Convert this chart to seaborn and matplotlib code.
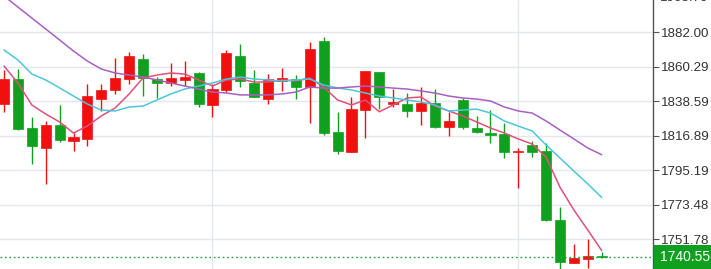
import numpy as np
import pandas as pd
import matplotlib
matplotlib.use("Agg")
import matplotlib.pyplot as plt
import seaborn as sns

# ---- data ----
opens = [1836.9, 1852.6, 1821.8, 1809.2, 1823.7, 1813.6, 1814.9, 1840.0, 1845.7, 1852.6,
         1865.2, 1852.6, 1850.1, 1852.0, 1856.4, 1836.3, 1845.7, 1867.1, 1850.1, 1840.0,
         1851.4, 1852.6, 1847.6, 1876.5, 1819.3, 1806.7, 1833.1, 1857.0, 1836.9, 1836.9,
         1832.5, 1837.5, 1822.4, 1839.4, 1821.8, 1818.7, 1818.0, 1806.7, 1811.1, 1807.3,
         1763.9, 1736.9, 1739.4, 1741.3]
highs = [1858.3, 1858.9, 1828.7, 1826.2, 1836.3, 1818.7, 1849.5, 1849.5, 1865.8, 1869.6,
         1868.4, 1853.9, 1862.7, 1864.0, 1857.0, 1849.5, 1870.9, 1874.6, 1858.3, 1855.8,
         1859.5, 1855.1, 1875.9, 1879.1, 1831.9, 1841.3, 1857.7, 1857.0, 1846.3, 1843.8,
         1847.6, 1846.3, 1831.9, 1840.7, 1829.4, 1833.1, 1825.0, 1809.2, 1813.6, 1812.4,
         1772.1, 1748.8, 1752.0, 1743.8]
lows = [1831.9, 1820.8, 1799.2, 1786.6, 1813.0, 1807.3, 1810.5, 1832.5, 1843.2, 1849.5,
        1841.9, 1840.7, 1848.2, 1848.2, 1835.0, 1828.7, 1844.4, 1847.6, 1841.0, 1836.9,
        1845.1, 1840.0, 1825.0, 1817.4, 1805.4, 1806.4, 1815.5, 1833.8, 1835.0, 1828.7,
        1823.7, 1822.0, 1816.8, 1821.2, 1818.7, 1812.4, 1802.9, 1784.1, 1803.6, 1763.5,
        1729.0, 1736.6, 1733.7, 1740.0]
closes = [1852.6, 1821.2, 1810.5, 1823.7, 1814.3, 1816.1, 1841.9, 1845.7, 1853.3, 1867.1,
          1853.3, 1850.1, 1853.3, 1853.9, 1836.9, 1846.3, 1869.0, 1851.4, 1841.3, 1852.6,
          1853.3, 1847.6, 1871.5, 1818.7, 1807.3, 1833.8, 1857.7, 1841.3, 1838.2, 1832.5,
          1837.5, 1822.4, 1826.2, 1822.4, 1819.3, 1817.4, 1806.7, 1807.3, 1806.7, 1763.9,
          1737.5, 1740.0, 1741.3, 1740.55]
ma_short = [1860.8, 1850.1, 1836.3, 1830.6, 1825.6, 1818.6, 1823.1, 1829.4, 1834.4, 1843.2,
            1853.3, 1855.1, 1856.4, 1855.7, 1852.0, 1848.2, 1852.0, 1852.6, 1850.7, 1850.7,
            1852.0, 1851.4, 1853.3, 1847.5, 1839.4, 1836.3, 1839.4, 1832.0, 1836.3, 1840.7,
            1841.3, 1835.6, 1832.5, 1829.4, 1825.6, 1821.8, 1818.6, 1814.9, 1811.7, 1803.5,
            1784.5, 1770.2, 1757.6, 1744.7]
ma_mid = [1870.9, 1864.6, 1855.8, 1852.0, 1847.0, 1841.9, 1836.9, 1833.1, 1832.5, 1835.0,
          1835.6, 1839.4, 1843.2, 1846.3, 1848.2, 1850.1, 1852.6, 1853.9, 1852.6, 1852.0,
          1851.4, 1852.0, 1852.6, 1848.8, 1847.0, 1845.7, 1843.8, 1841.9, 1840.7, 1839.4,
          1838.2, 1836.3, 1832.5, 1833.1, 1833.7, 1831.2, 1826.2, 1823.0, 1819.9, 1811.1,
          1802.9, 1794.7, 1786.6, 1778.1]
ma_long = [1904.8, 1897.9, 1891.0, 1884.1, 1877.2, 1870.2, 1863.9, 1858.9, 1856.4, 1855.1,
           1853.9, 1852.0, 1850.1, 1848.2, 1846.3, 1844.4, 1843.8, 1842.6, 1842.6, 1842.6,
           1843.2, 1844.4, 1847.6, 1846.9, 1846.9, 1847.6, 1848.2, 1847.6, 1846.9, 1846.3,
           1845.1, 1843.8, 1841.9, 1840.7, 1840.0, 1838.8, 1835.0, 1832.5, 1831.2, 1826.2,
           1820.5, 1814.9, 1809.2, 1805.0]
tick_values = [1751.78, 1773.48, 1795.19, 1816.89, 1838.59, 1860.29, 1882.00]
tick_labels = ["1751.78", "1773.48", "1795.19", "1816.89", "1838.59", "1860.29", "1882.00"]
top_label_value = 1903.70
top_label = "1903.70"
last_price = 1740.55
last_label = "1740.55"
vgrid_idx = [15, 37]

# ---- style ----
sns.set_style("white")
plt.rcParams['font.family'] = ['Liberation Sans', 'DejaVu Sans']

UP = "#f01010"
DOWN = "#10a020"
GRID = "#e4e8ee"
TXT = "#333333"

W, H, DPI = 711, 269, 100
fig = plt.figure(figsize=(W / DPI, H / DPI), dpi=DPI)
ax = fig.add_axes([0, 0, 653 / W, 1])

n = len(closes)
idx = np.arange(n)
df = pd.DataFrame({"i": idx, "open": opens, "high": highs, "low": lows, "close": closes,
                   "ma_short": ma_short, "ma_mid": ma_mid, "ma_long": ma_long})
df["color"] = np.where(df["close"] >= df["open"], UP, DOWN)

# grid
for v in tick_values:
    ax.axhline(v, color=GRID, lw=1.0, zorder=0)
for g in vgrid_idx:
    ax.axvline(g, color=GRID, lw=1.0, zorder=0)

# candles
ax.vlines(df["i"], df["low"], df["high"], colors=df["color"], lw=1.0, zorder=2)
body_lo = np.minimum(df["open"], df["close"])
body_h = np.maximum(np.abs(df["close"] - df["open"]), 0.8)
ax.bar(df["i"], body_h, bottom=body_lo, width=0.72, color=df["color"],
       edgecolor=df["color"], linewidth=0.5, zorder=3)

# moving averages
sns.lineplot(data=df, x="i", y="ma_short", color="#e0507a", lw=1.1, ax=ax, zorder=4)
sns.lineplot(data=df, x="i", y="ma_mid", color="#4cc6d8", lw=1.1, ax=ax, zorder=4)
sns.lineplot(data=df, x="i", y="ma_long", color="#a860c0", lw=1.1, ax=ax, zorder=4)

# last price line
ax.axhline(last_price, color="#20a040", lw=1.0, ls=(0, (1.2, 2.0)), zorder=5)

px_per_idx = 13.9
x0 = -4 / px_per_idx
ax.set_xlim(x0, x0 + 653 / px_per_idx)
ax.set_ylim(1733.09, 1902.32)
ax.set_xlabel("")
ax.set_ylabel("")
ax.set_xticks([])

ax.yaxis.tick_right()
ax.set_yticks(tick_values)
ax.set_yticklabels(tick_labels)
ax.tick_params(axis="y", which="both", right=True, length=4, width=0.8, color="#555555",
               pad=2, labelsize=9.6, labelcolor=TXT, direction="out")

for s in ["top", "left", "bottom"]:
    ax.spines[s].set_visible(False)
ax.spines["right"].set_color("#555555")
ax.spines["right"].set_linewidth(1.0)

ytr = ax.get_yaxis_transform()
# partially visible top label
ax.text(1.0 + 7 / 653, top_label_value, top_label, transform=ytr, ha="left", va="center",
        fontsize=9.6, color=TXT, clip_on=False)
ax.plot([1.0, 1.0 + 4 / 653], [top_label_value, top_label_value], transform=ytr,
        color="#555555", lw=0.8, clip_on=False)

# last price box
ax.text(1.0 + 7 / 653, last_price, last_label + "   ", transform=ytr, ha="left",
        va="center", fontsize=10, color="white", clip_on=False,
        bbox=dict(boxstyle="square,pad=0.4", fc="#10a020", ec="none"))

fig.savefig("out.png", dpi=DPI)
